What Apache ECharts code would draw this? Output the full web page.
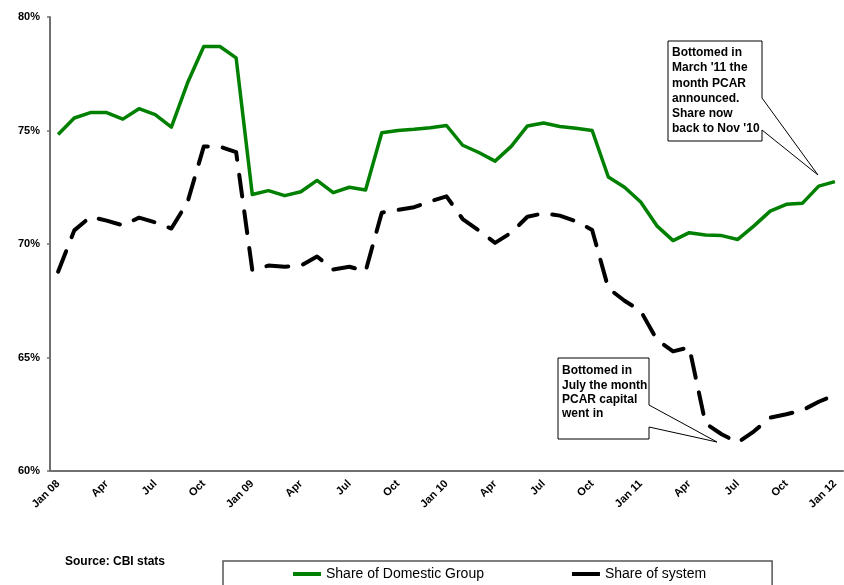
<!DOCTYPE html>
<html><head><meta charset="utf-8">
<script src="https://cdn.jsdelivr.net/npm/echarts@6/dist/echarts.min.js"></script>
<style>html,body{margin:0;padding:0;background:#fff}#c{width:844px;height:585px}</style>
</head><body><div id="c"></div>
<script>
const months = [
  'Jan 08','Feb','Mar','Apr','May','Jun','Jul','Aug','Sep','Oct','Nov','Dec',
  'Jan 09','Feb','Mar','Apr','May','Jun','Jul','Aug','Sep','Oct','Nov','Dec',
  'Jan 10','Feb','Mar','Apr','May','Jun','Jul','Aug','Sep','Oct','Nov','Dec',
  'Jan 11','Feb','Mar','Apr','May','Jun','Jul','Aug','Sep','Oct','Nov','Dec',
  'Jan 12'
];
const domesticGroup = [
  74.82, 75.55, 75.79, 75.79, 75.50, 75.96, 75.70, 75.15, 77.10, 78.70, 78.70, 78.20,
  72.18, 72.35, 72.13, 72.30, 72.80, 72.26, 72.50, 72.38, 74.90, 75.00, 75.05, 75.12,
  75.22, 74.35, 74.03, 73.65, 74.30, 75.20, 75.33, 75.18, 75.10, 75.00, 72.95, 72.50,
  71.85, 70.80, 70.15, 70.50, 70.40, 70.37, 70.20, 70.80, 71.45, 71.75, 71.80, 72.55,
  72.75
];
const system = [
  68.78, 70.60, 71.20, 71.03, 70.82, 71.16, 70.95, 70.68, 71.85, 74.29, 74.29, 74.05,
  68.85, 69.05, 69.00, 69.05, 69.45, 68.88, 69.00, 68.80, 71.38, 71.50, 71.62, 71.88,
  72.10, 71.10, 70.60, 70.05, 70.50, 71.20, 71.35, 71.25, 71.00, 70.62, 68.05, 67.50,
  67.05, 65.78, 65.27, 65.45, 62.10, 61.62, 61.25, 61.75, 62.35, 62.50, 62.68, 63.05,
  63.35
];
const seriesNames = ['Share of Domestic Group', 'Share of system'];
const yMin = 60, yMax = 80, yStep = 5;
const sourceText = 'Source: CBI stats';
const note1 = ['Bottomed in', "March '11 the", 'month PCAR', 'announced.', 'Share now', "back to Nov '10"];
const note2 = ['Bottomed in', 'July the month', 'PCAR capital', 'went in'];

const FONT = '"Liberation Sans", Arial, sans-serif';
const chart = echarts.init(document.getElementById('c'), null, {renderer: 'canvas'});
chart.setOption({
  animation: false,
  backgroundColor: '#fff',
  grid: {left: 50, right: 1, top: 17, bottom: 114, containLabel: false},
  xAxis: {
    type: 'category', data: months, boundaryGap: true,
    axisLine: {lineStyle: {color: '#707070', width: 2}},
    axisTick: {interval: 0, length: 4, lineStyle: {color: '#707070', width: 1.5}},
    axisLabel: {interval: 2, rotate: 45, margin: 11, fontSize: 11, fontWeight: 'bold',
      fontFamily: FONT, color: '#000'},
    splitLine: {show: false}
  },
  yAxis: {
    type: 'value', min: yMin, max: yMax, interval: yStep,
    axisLine: {show: true, lineStyle: {color: '#707070', width: 2}},
    axisTick: {show: true, length: 3, lineStyle: {color: '#707070', width: 1.5}},
    axisLabel: {formatter: '{value}%', margin: 10, fontSize: 11, fontWeight: 'bold',
      fontFamily: FONT, color: '#000'},
    splitLine: {show: false}
  },
  legend: {
    data: seriesNames, left: 223, top: 561,
    padding: [6, 66, 10, 70], itemGap: 88, itemWidth: 28, itemHeight: 4, icon: 'rect',
    borderColor: '#555', borderWidth: 1.5,
    textStyle: {fontSize: 14, fontFamily: FONT, color: '#000'}
  },
  series: [
    {name: seriesNames[0], type: 'line', data: domesticGroup, showSymbol: false, symbol: 'none',
     lineStyle: {color: '#008000', width: 3.5, join: 'round'}, itemStyle: {color: '#008000'}, z: 3},
    {name: seriesNames[1], type: 'line', data: system, showSymbol: false, symbol: 'none',
     lineStyle: {color: '#000', width: 4, type: [22, 15], cap: 'round', join: 'round'},
     itemStyle: {color: '#000'}, z: 2}
  ],
  graphic: [
    {type: 'text', left: 65, top: 556, style: {text: sourceText, font: 'bold 12px ' + FONT, fill: '#000'}},
    {type: 'polygon', z: 10, shape: {points: [[668,41],[762,41],[762,98],[818,175],[762,130],[762,141],[668,141]]},
     style: {fill: '#fff', stroke: '#000', lineWidth: 1}},
    {type: 'text', z: 11, x: 672, y: 45, style: {text: note1.join('\n'), font: 'bold 12px ' + FONT,
      lineHeight: 15.3, fill: '#000', verticalAlign: 'top'}},
    {type: 'polygon', z: 10, shape: {points: [[558,358],[649,358],[649,405],[717,442],[649,427],[649,439],[558,439]]},
     style: {fill: '#fff', stroke: '#000', lineWidth: 1}},
    {type: 'text', z: 11, x: 562, y: 364, style: {text: note2.join('\n'), font: 'bold 12px ' + FONT,
      lineHeight: 14.3, fill: '#000', verticalAlign: 'top'}}
  ]
});
</script>
</body></html>
